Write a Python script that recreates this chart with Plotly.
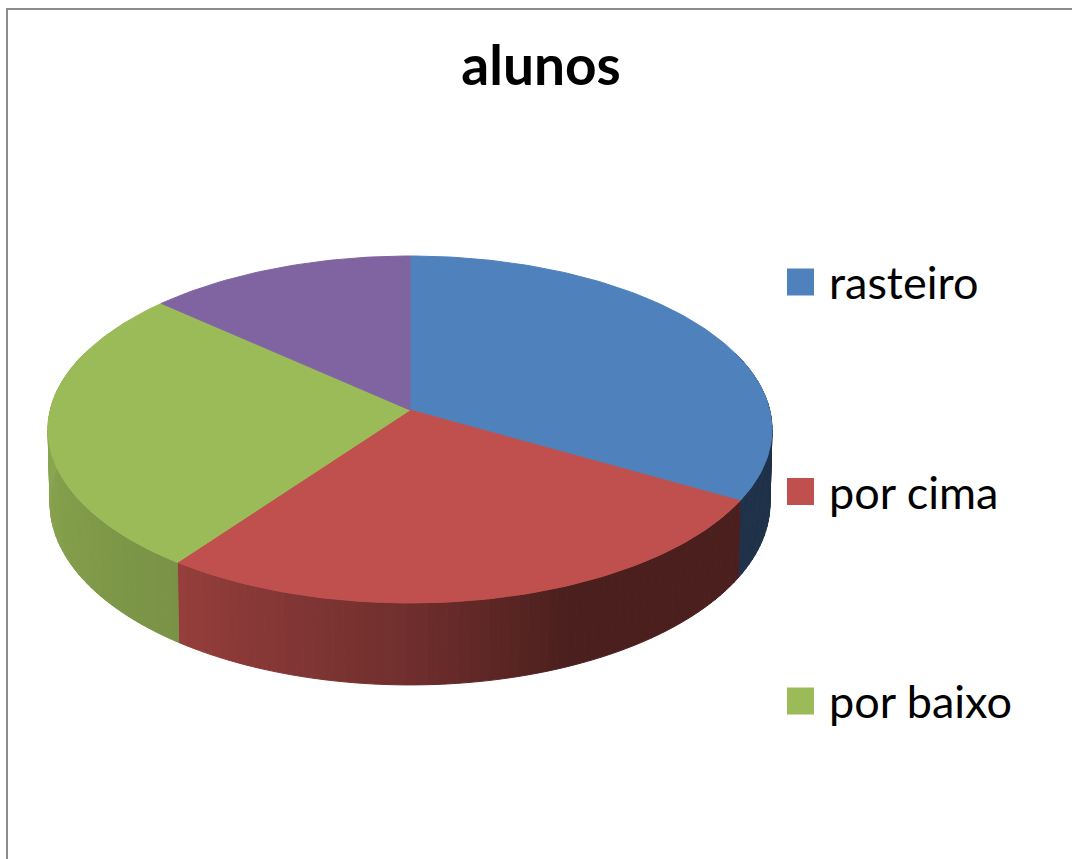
import numpy as np
import plotly.graph_objects as go

# Chart data
TITLE = "alunos"
CATEGORIES = ["rasteiro", "por cima", "por baixo", "outros"]
VALUES = [5, 4, 4, 2]
COLORS = ["#4F81BD", "#C0504D", "#9BBB59", "#8064A2"]

# Canvas and projection of the tilted disc
WIDTH, HEIGHT = 1072, 859
CENTER_X = 410
PERSPECTIVE = 0.1124
TOP_DISC = dict(radius=359.7, tilt=171.3, center_y=410)
BOTTOM_DISC = dict(radius=357.7, tilt=179.5, center_y=482.7)

# Rim brightness by clockwise angle from the top of the disc
SHADE_ANGLES = [0, 157, 180, 216, 270, 360]
SHADE_LEVELS = [0.38, 0.39, 0.58, 0.78, 0.89, 0.89]


def project(angle_deg, disc):
    """Map clockwise angles on the disc to canvas coordinates."""
    t = np.radians(angle_deg)
    across, depth = np.sin(t), np.cos(t)
    scale = 1 / (1 + PERSPECTIVE * depth)
    x = CENTER_X + disc["radius"] * across * scale
    y = disc["center_y"] - disc["tilt"] * depth * scale
    return x, y


def shaded(hex_color, level):
    r, g, b = (int(hex_color[i:i + 2], 16) for i in (1, 3, 5))
    return f"rgb({r * level:.0f},{g * level:.0f},{b * level:.0f})"


def filled(x, y, color):
    return go.Scatter(
        x=x, y=y, mode="lines", fill="toself", fillcolor=color,
        line=dict(color=color, width=1), hoverinfo="skip", showlegend=False,
    )


edges = 360 * np.cumsum([0] + VALUES) / sum(VALUES)
fig = go.Figure()

# Rim: narrow strips whose brightness follows the angle
for start, stop, color in zip(edges[:-1], edges[1:], COLORS):
    lo, hi = max(start, 70), min(stop, 290)
    if hi <= lo:
        continue
    steps = np.linspace(lo, hi, int((hi - lo) / 1.5) + 2)
    for a0, a1 in zip(steps[:-1], steps[1:]):
        pair = np.array([a0, a1])
        tx, ty = project(pair, TOP_DISC)
        bx, by = project(pair, BOTTOM_DISC)
        level = np.interp((a0 + a1) / 2, SHADE_ANGLES, SHADE_LEVELS)
        fig.add_trace(filled(
            np.r_[tx, bx[::-1], tx[0]],
            np.r_[ty, by[::-1], ty[0]],
            shaded(color, level),
        ))

# Top face of each slice
for start, stop, color in zip(edges[:-1], edges[1:], COLORS):
    arc_x, arc_y = project(np.linspace(start, stop, int(stop - start) + 2), TOP_DISC)
    cx, cy = CENTER_X, TOP_DISC["center_y"]
    fig.add_trace(filled(np.r_[cx, arc_x, cx], np.r_[cy, arc_y, cy], color))

# Legend rows; a row that falls below the canvas is left out
LEGEND_SWATCH_X = 800.5
LEGEND_TEXT_X = 829
LEGEND_FIRST_Y = 282
LEGEND_ROW_STEP = 209.5
LEGEND_TEXT_DROP = 6
for i, (name, color) in enumerate(zip(CATEGORIES, COLORS)):
    row_y = LEGEND_FIRST_Y + i * LEGEND_ROW_STEP
    if row_y > HEIGHT:
        continue
    fig.add_trace(go.Scatter(
        x=[LEGEND_SWATCH_X], y=[row_y], mode="markers",
        marker=dict(symbol="square", size=27, color=color, line=dict(width=0)),
        hoverinfo="skip", showlegend=False,
    ))
    fig.add_trace(go.Scatter(
        x=[LEGEND_TEXT_X], y=[row_y + LEGEND_TEXT_DROP], mode="text", text=[name],
        textposition="middle right",
        textfont=dict(family="Lato", size=45, color="#000000"),
        hoverinfo="skip", showlegend=False,
    ))

fig.update_layout(
    width=WIDTH, height=HEIGHT,
    margin=dict(l=0, r=0, t=0, b=0),
    paper_bgcolor="white", plot_bgcolor="white",
    title=dict(
        text=f"<b>{TITLE}</b>", x=541 / WIDTH, xanchor="center",
        y=1 - 66 / HEIGHT, yanchor="middle",
        font=dict(family="Lato", size=55, color="#000000"),
    ),
    xaxis=dict(range=[0, WIDTH], visible=False, fixedrange=True),
    yaxis=dict(range=[HEIGHT, 0], visible=False, fixedrange=True),
    shapes=[
        dict(type="line", x0=7, x1=7, y0=8, y1=HEIGHT,
             line=dict(color="#8C8C8C", width=2)),
        dict(type="line", x0=6, x1=WIDTH, y0=9, y1=9,
             line=dict(color="#8C8C8C", width=2)),
    ],
)

fig.write_html("out.html", config=dict(displayModeBar=False))
